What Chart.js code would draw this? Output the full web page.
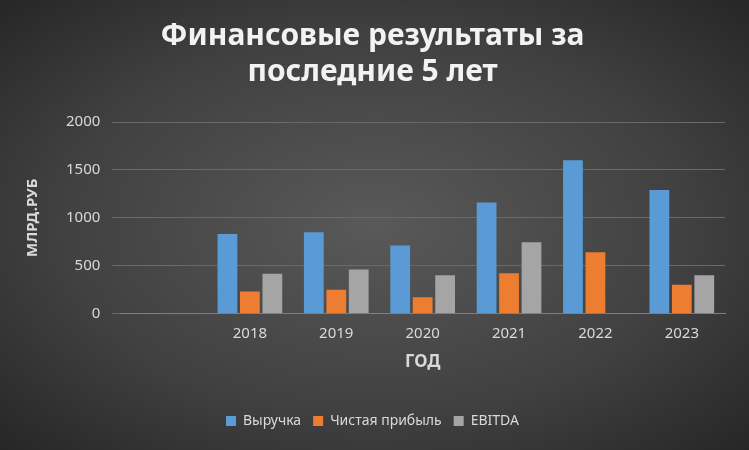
<!DOCTYPE html>
<html><head><meta charset="utf-8">
<script src="https://cdn.jsdelivr.net/npm/chart.js@4/dist/chart.umd.min.js"></script>
<style>
html,body{margin:0;padding:0;}
body{width:749px;height:450px;background:radial-gradient(ellipse at center,#595959 0%,#404040 60%,#262626 100%);}
#w{width:749px;height:450px;}
</style></head><body>
<div id="w"><canvas id="c" width="749" height="450"></canvas></div>
<script>
const categories = ["", "2018", "2019", "2020", "2021", "2022", "2023"];
const revenue = [null, 830, 850, 710, 1160, 1600, 1290];
const netProfit = [null, 230, 250, 170, 420, 640, 300];
const ebitda = [null, 415, 460, 400, 745, null, 400];
const yTicks = [0, 500, 1000, 1500, 2000];

const txt = '#d9d9d9';
const spacing = {id: 'sp', beforeDraw(c){ c.ctx.letterSpacing = '0px'; },
  afterInit(c){}};
new Chart(document.getElementById('c'), {
  type: 'bar',
  data: {
    labels: categories,
    datasets: [
      {label: 'Выручка', data: revenue, backgroundColor: '#5b9bd5'},
      {label: 'Чистая прибыль', data: netProfit, backgroundColor: '#ed7d31'},
      {label: 'EBITDA', data: ebitda, backgroundColor: '#a5a5a5'}
    ]
  },
  plugins: [{id: 'ls', beforeDraw(c){ c.ctx.save(); c.ctx.letterSpacing='2px'; c.titleBlock && (c.titleBlock._ls = 1); c.ctx.restore(); }}],
  options: {
    responsive: false, animation: false,
    categoryPercentage: 0.78, barPercentage: 0.88,
    layout: {padding: {left: 20, right: 24, top: 10, bottom: 12}},
    plugins: {
      title: {display: true, text: ['Финансовые результаты за', 'последние 5 лет'], color: '#f2f2f2',
        font: {family: 'Noto Sans', size: 30, weight: 'bold'}, padding: {top: 8, bottom: 32}, lineHeight: 1.3},
      legend: {position: 'bottom', labels: {color: txt, boxWidth: 10, boxHeight: 10, padding: 12,
        font: {family: 'Noto Sans', size: 14}}},
      tooltip: {enabled: false}
    },
    scales: {
      x: {grid: {display: false}, border: {color: '#7f7f7f'},
        ticks: {color: txt, font: {family: 'Noto Sans', size: 15}},
        title: {display: true, text: 'ГОД', color: txt, font: {family: 'Noto Sans', size: 17, weight: 'bold'}, padding: {top: 6, bottom: 30}}},
      y: {min: 0, max: 2000, afterBuildTicks: a => { a.ticks = yTicks.map(v => ({value: v})); },
        grid: {color: '#6a6a6a'}, border: {display: false},
        ticks: {color: txt, padding: 12, font: {family: 'Noto Sans', size: 15}, callback: v => String(v)},
        title: {display: true, text: 'МЛРД.РУБ', color: txt, font: {family: 'Noto Sans', size: 15, weight: 'bold'}, padding: {bottom: 12}}}
    }
  }
});
</script></body></html>
